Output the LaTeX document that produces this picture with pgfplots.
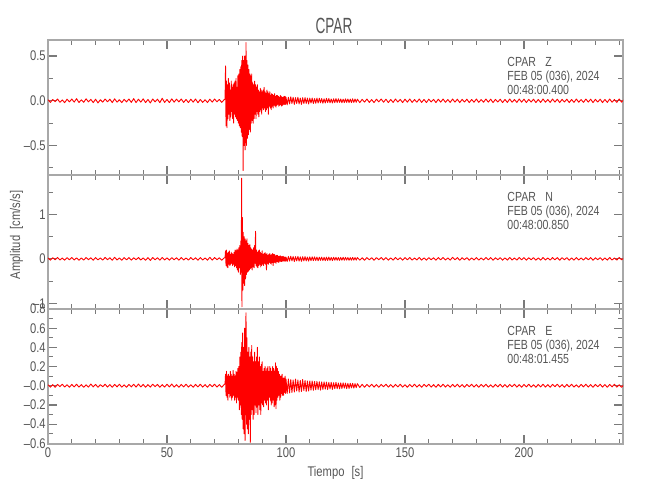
\documentclass[border=0pt]{standalone}
\usepackage{fontspec}
\setmainfont{Liberation Sans}[FakeStretch=0.8]
\newfontfamily\titlefont{Liberation Sans}[FakeStretch=0.62]
\usepackage{pgfplots}
\pgfplotsset{compat=1.18}
\definecolor{txtgray}{HTML}{555555}
\definecolor{axgray}{HTML}{A8A8A8}
\definecolor{tkgray}{HTML}{7A7A7A}
\newcommand\sz{\fontsize{7}{8.4}\selectfont}
\newcommand\an{\fontsize{6.6}{7.9}\selectfont}
\pgfplotsset{
  panel/.style={
    scale only axis, width=287.5pt, xmin=0, xmax=241.6,
    anchor=south west,
    axis line style={draw=axgray, line width=1pt},
    tick align=inside, tick pos=both,
    xticklabel pos=lower, yticklabel pos=left,
    major tick length=4.5pt, minor tick length=2.5pt,
    every major tick/.append style={draw=tkgray, line width=0.6pt},
    every minor tick/.append style={draw=tkgray, line width=0.5pt},
    xtick={0,50,100,150,200},
    minor xtick={10,20,30,40,60,70,80,90,110,120,130,140,160,170,180,190,210,220,230,240},
    tick label style={font=\sz, text=txtgray},
    yticklabel style={inner xsep=1pt, inner ysep=0pt},
    xticklabel style={inner sep=1.5pt},
  },
  trace/.style={red, line width=0.45pt, line join=round, no markers},
}
\begin{document}
\begin{tikzpicture}
\path[use as bounding box] (0pt,0pt) rectangle (325pt,250pt);
% ---------------- Panel 1 (Z)
\begin{axis}[panel, at={(24pt,162.5pt)}, height=67.5pt,
  ymin=-0.83, ymax=0.68, ytick={-0.5,0,0.5},
  yticklabels={\textendash0.5,0.0,0.5},
  minor ytick={-0.75,-0.25,0.25}, xticklabels={}]
\addplot[trace] coordinates {
(0,0.012)(1,-0.018)(2,0.015)(3,-0.01)(4,0.02)(5,-0.016)(6,0.01)(7,-0.021)(8,0.018)(9,-0.012)(10,0.02)(11,-0.015)(12,0.024)(13,-0.019)(14,0.011)(15,-0.017)(16,0.022)(17,-0.012)(18,0.016)(19,-0.02)(20,0.018)(21,-0.024)(22,0.012)(23,-0.015)(24,0.02)(25,-0.011)(26,0.018)(27,-0.02)(28,0.022)(29,-0.015)(30,0.012)(31,-0.02)(32,0.016)(33,-0.013)(34,0.02)(35,-0.018)(36,0.024)(37,-0.02)(38,0.018)(39,-0.015)(40,0.022)(41,-0.02)(42,0.015)(43,-0.024)(44,0.02)(45,-0.012)(46,0.018)(47,-0.02)(48,0.028)(49,-0.018)(50,0.015)(51,-0.02)(52,0.022)(53,-0.015)(54,0.018)(55,-0.012)(56,0.02)(57,-0.018)(58,0.015)(59,-0.02)(60,0.018)(61,-0.015)(62,0.02)(63,-0.022)(64,0.015)(65,-0.018)(66,0.012)(67,-0.02)(68,0.018)(69,-0.015)(70,0.02)(71,-0.012)(72,0.015)(73,-0.018)(74,0.012)
(74.4,0.02)(74.6,0.39)(74.8,-0.28)(75.0,0.22)(75.2,-0.3)(75.4,0.18)(75.6,-0.2)(75.8,0.25)(76.0,-0.15)(76.2,0.2)(76.4,-0.22)(76.6,0.12)(76.8,-0.18)(77.0,0.22)(77.2,-0.12)(77.4,0.15)(77.6,-0.2)(77.8,0.18)(78.0,-0.25)(78.2,0.2)(78.4,-0.15)(78.6,0.22)(78.8,-0.18)(79.0,0.25)(79.2,-0.2)(79.4,0.15)(79.6,-0.22)(79.8,0.28)(80.0,-0.25)(80.2,0.3)(80.4,-0.28)(80.6,0.35)(80.8,-0.3)(81.0,0.38)(81.2,-0.35)(81.4,0.45)(81.6,-0.4)(81.8,0.5)(82.0,-0.78)(82.2,0.45)(82.4,-0.5)(82.6,0.5)(82.8,-0.55)(83.0,-0.4)(83.2,0.65)(83.4,-0.5)(83.6,0.45)(83.8,-0.42)(84.0,0.4)(84.2,-0.38)(84.4,0.35)(84.6,-0.32)(84.8,0.3)(85.0,-0.35)(85.2,0.28)(85.4,-0.25)(85.6,0.3)(85.8,-0.22)(86.0,0.2)(86.2,-0.25)(86.4,0.18)(86.6,-0.2)(86.8,0.22)(87.0,-0.15)(87.2,0.18)(87.4,-0.2)(87.6,0.15)(87.8,-0.12)(88.0,0.18)(88.2,-0.15)(88.4,0.12)(88.6,-0.18)(88.8,0.1)(89.0,-0.12)(89.2,0.14)(89.4,-0.1)(89.6,0.12)(89.8,-0.15)(90.0,0.1)(90.2,-0.08)(90.4,0.12)(90.6,-0.1)(90.8,0.15)(91.0,-0.08)(91.2,0.1)(91.4,-0.12)(91.6,0.08)(91.8,-0.1)(92.0,0.12)(92.2,-0.08)(92.4,0.1)(92.6,-0.15)(92.8,0.08)(93.0,-0.06)(93.2,0.1)(93.4,-0.08)(93.6,0.06)(93.8,-0.1)(94.0,0.08)(94.2,-0.06)(94.4,0.07)(94.6,-0.08)(94.8,0.06)(95.0,-0.05)(95.2,0.08)(95.4,-0.06)(95.6,0.05)(95.8,-0.07)(96.0,0.06)(96.2,-0.05)(96.4,0.06)(96.6,-0.04)(96.8,0.05)(97.0,-0.06)(97.2,0.04)(97.4,-0.05)(97.6,0.06)(97.8,-0.04)(98.0,0.05)(98.2,-0.06)(98.4,0.04)(98.6,-0.05)(98.8,0.04)(99.0,-0.04)(99.2,0.05)(99.4,-0.04)(99.6,0.05)(99.8,-0.04)(100.0,0.04)
(100.5,-0.045)(101,0.04)(101.5,-0.035)(102,0.045)(102.5,-0.03)(103,0.04)(103.5,-0.04)(104,0.035)(104.5,-0.03)(105,0.04)(105.5,-0.035)(106,0.03)(106.5,-0.04)(107,0.035)(107.5,-0.03)(108,0.035)(108.5,-0.03)(109,0.03)(109.5,-0.035)(110,0.03)(110.5,-0.025)(111,0.03)(111.5,-0.03)(112,0.025)(112.5,-0.028)(113,0.03)(113.5,-0.025)(114,0.028)(114.5,-0.022)(115,0.025)(115.5,-0.028)(116,0.022)(116.5,-0.025)(117,0.028)(117.5,-0.02)(118,0.025)(118.5,-0.022)(119,0.02)(119.5,-0.025)(120,0.022)(120.5,-0.02)(121,0.024)(121.5,-0.02)(122,0.022)(122.5,-0.018)(123,0.02)(123.5,-0.022)(124,0.018)(124.5,-0.02)(125,0.022)(125.5,-0.018)(126,0.02)(126.5,-0.02)(127,0.018)(127.5,-0.02)(128,0.022)(128.5,-0.018)(129,0.02)(129.5,-0.017)(130,0.018)
(131,-0.02)(132,0.016)(133,-0.015)(134,0.02)(135,-0.018)(136,0.014)(137,-0.02)(138,0.018)(139,-0.012)(140,0.02)(141,-0.016)(142,0.018)(143,-0.02)(144,0.015)(145,-0.018)(146,0.02)(147,-0.014)(148,0.016)(149,-0.02)(150,0.018)(151,-0.015)(152,0.02)(153,-0.018)(154,0.014)(155,-0.016)(156,0.02)(157,-0.018)(158,0.015)(159,-0.02)(160,0.018)(161,-0.013)(162,0.016)(163,-0.02)(164,0.018)(165,-0.015)(166,0.02)(167,-0.017)(168,0.014)(169,-0.018)(170,0.02)(171,-0.015)(172,0.018)(173,-0.02)(174,0.016)(175,-0.014)(176,0.018)(177,-0.02)(178,0.015)(179,-0.016)(180,0.02)(181,-0.018)(182,0.014)(183,-0.016)(184,0.02)(185,-0.015)(186,0.018)(187,-0.02)(188,0.016)(189,-0.014)(190,0.018)(191,-0.02)(192,0.015)(193,-0.018)(194,0.02)(195,-0.016)(196,0.014)(197,-0.018)(198,0.02)(199,-0.015)(200,0.018)(201,-0.02)(202,0.016)(203,-0.014)(204,0.018)(205,-0.02)(206,0.015)(207,-0.018)(208,0.02)(209,-0.016)(210,0.014)(211,-0.018)(212,0.02)(213,-0.015)(214,0.018)(215,-0.02)(216,0.016)(217,-0.014)(218,0.018)(219,-0.02)(220,0.015)(221,-0.018)(222,0.02)(223,-0.016)(224,0.014)(225,-0.018)(226,0.02)(227,-0.015)(228,0.018)(229,-0.02)(230,0.016)(231,-0.014)(232,0.018)(233,-0.02)(234,0.015)(235,-0.018)(236,0.02)(237,-0.016)(238,0.014)(239,-0.018)(240,0.02)(241,-0.015)(242,0.016)
};
\end{axis}
% ---------------- Panel 2 (N)
\begin{axis}[panel, at={(24pt,95.5pt)}, height=67pt,
  ymin=-1.13, ymax=1.89, ytick={-1,0,1},
  yticklabels={\textendash1,0,1},
  minor ytick={-0.5,0.5,1.5}, xticklabels={}]
\addplot[trace] coordinates {
(0,0.02)(1,-0.03)(2,0.025)(3,-0.02)(4,0.032)(5,-0.025)(6,0.018)(7,-0.03)(8,0.028)(9,-0.02)(10,0.03)(11,-0.025)(12,0.022)(13,-0.032)(14,0.02)(15,-0.028)(16,0.03)(17,-0.018)(18,0.025)(19,-0.03)(20,0.028)(21,-0.022)(22,0.02)(23,-0.028)(24,0.032)(25,-0.02)(26,0.025)(27,-0.03)(28,0.035)(29,-0.025)(30,0.02)(31,-0.03)(32,0.028)(33,-0.022)(34,0.03)(35,-0.028)(36,0.025)(37,-0.02)(38,0.03)(39,-0.025)(40,0.022)(41,-0.03)(42,0.028)(43,-0.035)(44,0.03)(45,-0.02)(46,0.025)(47,-0.03)(48,0.032)(49,-0.025)(50,0.022)(51,-0.03)(52,0.028)(53,-0.02)(54,0.025)(55,-0.03)(56,0.03)(57,-0.025)(58,0.02)(59,-0.028)(60,0.03)(61,-0.022)(62,0.025)(63,-0.03)(64,0.028)(65,-0.025)(66,0.02)(67,-0.03)(68,0.035)(69,-0.028)(70,0.03)(71,-0.02)(72,0.025)(73,-0.03)(74,0.02)
(74.4,0.03)(74.6,0.18)(74.8,-0.15)(75.0,0.2)(75.2,-0.18)(75.4,0.12)(75.6,-0.2)(75.8,0.15)(76.0,-0.12)(76.2,0.18)(76.4,-0.15)(76.6,0.1)(76.8,-0.12)(77.0,0.15)(77.2,-0.1)(77.4,0.12)(77.6,-0.15)(77.8,0.1)(78.0,-0.12)(78.2,0.15)(78.4,-0.18)(78.6,0.2)(78.8,-0.15)(79.0,0.18)(79.2,-0.2)(79.4,0.22)(79.6,-0.25)(79.8,0.2)(80.0,-0.3)(80.2,0.25)(80.4,-0.2)(80.6,0.3)(80.8,-0.35)(81.0,0.4)(81.2,-0.3)(81.35,1.82)(81.5,-1.08)(81.7,0.93)(81.9,-0.7)(82.0,0.6)(82.2,-0.55)(82.4,0.5)(82.6,-0.6)(82.8,0.45)(83.0,-0.45)(83.2,0.4)(83.4,-0.35)(83.6,0.45)(83.8,-0.3)(84.0,0.35)(84.2,-0.28)(84.4,0.3)(84.6,-0.25)(84.8,0.32)(85.0,-0.22)(85.2,0.25)(85.4,-0.2)(85.6,0.22)(85.8,-0.25)(86.0,0.2)(86.2,-0.18)(86.4,0.25)(86.6,-0.2)(86.8,0.3)(87.0,-0.1)(87.2,0.62)(87.4,-0.15)(87.6,0.2)(87.8,-0.18)(88.0,0.15)(88.2,-0.2)(88.4,0.18)(88.6,-0.15)(88.8,0.2)(89.0,-0.12)(89.2,0.15)(89.4,-0.18)(89.6,0.12)(89.8,-0.15)(90.0,0.18)(90.2,-0.12)(90.4,0.1)(90.6,-0.15)(90.8,0.12)(91.0,-0.1)(91.2,0.14)(91.4,-0.12)(91.6,0.1)(91.8,-0.25)(92.0,0.12)(92.2,-0.1)(92.4,0.08)(92.6,-0.12)(92.8,0.1)(93.0,-0.08)(93.2,0.12)(93.4,-0.1)(93.6,0.08)(93.8,-0.12)(94.0,0.1)(94.2,-0.08)(94.4,0.12)(94.6,-0.15)(94.8,0.1)(95.0,-0.08)(95.2,0.1)(95.4,-0.08)(95.6,0.07)(95.8,-0.1)(96.0,0.08)(96.2,-0.06)(96.4,0.08)(96.6,-0.07)(96.8,0.06)(97.0,-0.08)(97.2,0.06)(97.4,-0.05)(97.6,0.07)(97.8,-0.06)(98.0,0.05)(98.2,-0.06)(98.4,0.05)(98.6,-0.05)(98.8,0.06)(99.0,-0.05)(99.2,0.04)(99.4,-0.05)(99.6,0.04)(99.8,-0.05)(100.0,0.04)
(100.5,-0.06)(101,0.055)(101.5,-0.05)(102,0.06)(102.5,-0.045)(103,0.055)(103.5,-0.06)(104,0.05)(104.5,-0.045)(105,0.055)(105.5,-0.05)(106,0.045)(106.5,-0.055)(107,0.05)(107.5,-0.045)(108,0.05)(108.5,-0.045)(109,0.04)(109.5,-0.05)(110,0.045)(110.5,-0.04)(111,0.045)(111.5,-0.04)(112,0.045)(112.5,-0.038)(113,0.04)(113.5,-0.042)(114,0.038)(114.5,-0.035)(115,0.04)(115.5,-0.038)(116,0.035)(116.5,-0.04)(117,0.038)(117.5,-0.035)(118,0.04)(118.5,-0.035)(119,0.032)(119.5,-0.038)(120,0.035)(120.5,-0.03)(121,0.035)(121.5,-0.032)(122,0.03)(122.5,-0.035)(123,0.032)(123.5,-0.03)(124,0.035)(124.5,-0.03)(125,0.032)(125.5,-0.028)(126,0.03)(126.5,-0.032)(127,0.028)(127.5,-0.03)(128,0.032)(128.5,-0.028)(129,0.03)(129.5,-0.028)(130,0.03)
(131,-0.028)(132,0.025)(133,-0.03)(134,0.028)(135,-0.022)(136,0.025)(137,-0.03)(138,0.028)(139,-0.02)(140,0.03)(141,-0.025)(142,0.028)(143,-0.03)(144,0.022)(145,-0.028)(146,0.03)(147,-0.02)(148,0.025)(149,-0.03)(150,0.028)(151,-0.022)(152,0.03)(153,-0.028)(154,0.02)(155,-0.025)(156,0.03)(157,-0.028)(158,0.022)(159,-0.03)(160,0.028)(161,-0.02)(162,0.025)(163,-0.03)(164,0.028)(165,-0.022)(166,0.03)(167,-0.025)(168,0.02)(169,-0.028)(170,0.035)(171,-0.022)(172,0.028)(173,-0.03)(174,0.025)(175,-0.02)(176,0.028)(177,-0.03)(178,0.022)(179,-0.025)(180,0.03)(181,-0.028)(182,0.02)(183,-0.025)(184,0.03)(185,-0.022)(186,0.028)(187,-0.03)(188,0.025)(189,-0.02)(190,0.028)(191,-0.03)(192,0.022)(193,-0.028)(194,0.03)(195,-0.025)(196,0.02)(197,-0.028)(198,0.03)(199,-0.022)(200,0.028)(201,-0.03)(202,0.025)(203,-0.02)(204,0.028)(205,-0.03)(206,0.022)(207,-0.028)(208,0.03)(209,-0.025)(210,0.02)(211,-0.028)(212,0.03)(213,-0.022)(214,0.028)(215,-0.03)(216,0.025)(217,-0.02)(218,0.028)(219,-0.03)(220,0.022)(221,-0.028)(222,0.03)(223,-0.025)(224,0.02)(225,-0.028)(226,0.03)(227,-0.022)(228,0.028)(229,-0.03)(230,0.025)(231,-0.02)(232,0.028)(233,-0.03)(234,0.022)(235,-0.028)(236,0.03)(237,-0.025)(238,0.02)(239,-0.028)(240,0.03)(241,-0.022)(242,0.025)
};
\end{axis}
% ---------------- Panel 3 (E)
\begin{axis}[panel, at={(24pt,28pt)}, height=67.5pt,
  ymin=-0.607, ymax=0.8, ytick={-0.6,-0.4,-0.2,0,0.2,0.4,0.6,0.8},
  yticklabels={\textendash0.6,\textendash0.4,\textendash0.2,\textendash0.0,0.2,0.4,0.6,0.8},
  minor ytick={-0.5,-0.3,-0.1,0.1,0.3,0.5,0.7},
  xticklabels={0,50,100,150,200}]
\addplot[trace] coordinates {
(0,0.01)(1,-0.015)(2,0.012)(3,-0.016)(4,0.014)(5,-0.01)(6,0.016)(7,-0.013)(8,0.01)(9,-0.016)(10,0.014)(11,-0.012)(12,0.016)(13,-0.014)(14,0.012)(15,-0.016)(16,0.01)(17,-0.014)(18,0.018)(19,-0.012)(20,0.014)(21,-0.016)(22,0.012)(23,-0.01)(24,0.016)(25,-0.014)(26,0.012)(27,-0.016)(28,0.014)(29,-0.012)(30,0.016)(31,-0.014)(32,0.01)(33,-0.016)(34,0.014)(35,-0.012)(36,0.016)(37,-0.014)(38,0.018)(39,-0.012)(40,0.014)(41,-0.016)(42,0.012)(43,-0.014)(44,0.016)(45,-0.01)(46,0.014)(47,-0.016)(48,0.012)(49,-0.014)(50,0.016)(51,-0.012)(52,0.018)(53,-0.014)(54,0.012)(55,-0.016)(56,0.014)(57,-0.012)(58,0.016)(59,-0.014)(60,0.01)(61,-0.016)(62,0.014)(63,-0.012)(64,0.016)(65,-0.014)(66,0.012)(67,-0.016)(68,0.014)(69,-0.01)(70,0.016)(71,-0.014)(72,0.012)(73,-0.016)(74,0.012)
(74.4,0.02)(74.6,0.12)(74.8,-0.1)(75.0,0.15)(75.2,-0.12)(75.4,0.1)(75.6,-0.15)(75.8,0.12)(76.0,-0.08)(76.2,0.1)(76.4,-0.12)(76.6,0.15)(76.8,-0.1)(77.0,0.12)(77.2,-0.15)(77.4,0.1)(77.6,-0.12)(77.8,0.16)(78.0,-0.1)(78.2,0.12)(78.4,-0.15)(78.6,0.1)(78.8,-0.12)(79.0,0.15)(79.2,-0.18)(79.4,0.14)(79.6,-0.12)(79.8,0.18)(80.0,-0.15)(80.2,0.2)(80.4,-0.25)(80.6,0.3)(80.8,-0.2)(81.0,0.35)(81.2,-0.3)(81.4,0.45)(81.6,-0.35)(81.8,0.55)(82.0,-0.45)(82.2,0.4)(82.4,-0.5)(82.6,0.6)(82.8,-0.57)(83.0,0.5)(83.2,0.76)(83.4,-0.4)(83.6,0.5)(83.8,-0.45)(84.0,0.35)(84.2,-0.5)(84.4,0.4)(84.6,-0.35)(84.8,0.3)(85.0,-0.59)(85.2,0.35)(85.4,-0.3)(85.6,0.42)(85.8,-0.25)(86.0,0.3)(86.2,-0.35)(86.4,0.25)(86.6,-0.3)(86.8,0.35)(87.0,-0.2)(87.2,0.25)(87.4,-0.28)(87.6,0.3)(87.8,-0.22)(88.0,0.4)(88.2,-0.3)(88.4,0.25)(88.6,-0.2)(88.8,0.3)(89.0,-0.25)(89.2,0.2)(89.4,-0.3)(89.6,0.22)(89.8,-0.18)(90.0,0.25)(90.2,-0.2)(90.4,0.15)(90.6,-0.22)(90.8,0.18)(91.0,-0.15)(91.2,0.2)(91.4,-0.18)(91.6,0.15)(91.8,-0.2)(92.0,0.18)(92.2,-0.15)(92.4,0.2)(92.6,-0.25)(92.8,0.15)(93.0,-0.12)(93.2,0.2)(93.4,-0.15)(93.6,0.18)(93.8,-0.2)(94.0,0.15)(94.2,-0.18)(94.4,0.2)(94.6,-0.15)(94.8,0.18)(95.0,-0.22)(95.2,0.15)(95.4,-0.2)(95.6,0.24)(95.8,-0.24)(96.0,0.2)(96.2,-0.15)(96.4,0.18)(96.6,-0.12)(96.8,0.15)(97.0,-0.1)(97.2,0.12)(97.4,-0.15)(97.6,0.1)(97.8,-0.12)(98.0,0.1)(98.2,-0.08)(98.4,0.12)(98.6,-0.1)(98.8,0.08)(99.0,-0.1)(99.2,0.08)(99.4,-0.07)(99.6,0.1)(99.8,-0.08)(100.0,0.07)
(100.5,-0.08)(101,0.07)(101.5,-0.075)(102,0.065)(102.5,-0.07)(103,0.06)(103.5,-0.065)(104,0.07)(104.5,-0.055)(105,0.06)(105.5,-0.065)(106,0.055)(106.5,-0.06)(107,0.065)(107.5,-0.05)(108,0.055)(108.5,-0.06)(109,0.05)(109.5,-0.055)(110,0.05)(110.5,-0.045)(111,0.05)(111.5,-0.048)(112,0.045)(112.5,-0.042)(113,0.045)(113.5,-0.04)(114,0.042)(114.5,-0.045)(115,0.04)(115.5,-0.038)(116,0.04)(116.5,-0.035)(117,0.038)(117.5,-0.04)(118,0.035)(118.5,-0.032)(119,0.035)(119.5,-0.038)(120,0.032)(120.5,-0.03)(121,0.035)(121.5,-0.03)(122,0.028)(122.5,-0.032)(123,0.03)(123.5,-0.028)(124,0.03)(124.5,-0.025)(125,0.028)(125.5,-0.03)(126,0.025)(126.5,-0.028)(127,0.025)(127.5,-0.022)(128,0.025)(128.5,-0.024)(129,0.022)(129.5,-0.02)(130,0.022)
(131,-0.018)(132,0.015)(133,-0.016)(134,0.014)(135,-0.012)(136,0.016)(137,-0.014)(138,0.012)(139,-0.016)(140,0.014)(141,-0.01)(142,0.016)(143,-0.014)(144,0.012)(145,-0.016)(146,0.014)(147,-0.012)(148,0.016)(149,-0.014)(150,0.01)(151,-0.016)(152,0.014)(153,-0.012)(154,0.016)(155,-0.014)(156,0.012)(157,-0.016)(158,0.014)(159,-0.01)(160,0.016)(161,-0.014)(162,0.012)(163,-0.016)(164,0.014)(165,-0.012)(166,0.016)(167,-0.014)(168,0.01)(169,-0.016)(170,0.014)(171,-0.012)(172,0.016)(173,-0.014)(174,0.012)(175,-0.016)(176,0.014)(177,-0.01)(178,0.016)(179,-0.014)(180,0.012)(181,-0.016)(182,0.014)(183,-0.012)(184,0.016)(185,-0.014)(186,0.01)(187,-0.016)(188,0.014)(189,-0.012)(190,0.016)(191,-0.014)(192,0.012)(193,-0.016)(194,0.014)(195,-0.01)(196,0.016)(197,-0.014)(198,0.012)(199,-0.016)(200,0.014)(201,-0.012)(202,0.016)(203,-0.014)(204,0.01)(205,-0.016)(206,0.014)(207,-0.012)(208,0.016)(209,-0.014)(210,0.012)(211,-0.016)(212,0.014)(213,-0.01)(214,0.016)(215,-0.014)(216,0.012)(217,-0.016)(218,0.014)(219,-0.012)(220,0.016)(221,-0.014)(222,0.01)(223,-0.016)(224,0.014)(225,-0.012)(226,0.016)(227,-0.014)(228,0.012)(229,-0.016)(230,0.014)(231,-0.01)(232,0.016)(233,-0.014)(234,0.012)(235,-0.016)(236,0.014)(237,-0.012)(238,0.016)(239,-0.014)(240,0.01)(241,-0.016)(242,0.014)
};
\end{axis}
% ---------------- Texts
\node[anchor=base, text=txtgray, font=\titlefont\fontsize{11}{13}\selectfont] at (167pt,233.3pt) {CPAR};
\node[anchor=base, text=txtgray, font=\sz] at (167.75pt,11.7pt) {Tiempo\hspace{2pt} [s]};
\node[anchor=base, rotate=90, text=txtgray, font=\sz] at (10pt,132.5pt) {Amplitud\hspace{1.5pt} [cm/s/s]};
% annotations
\foreach \top/\comp/\tm in {230/Z/00:48:00.400, 162.5/N/00:48:00.850, 95.5/E/00:48:01.455}{
  \node[anchor=base west, inner sep=0pt, text=txtgray, font=\an] at (253.5pt,\top pt-13pt) {CPAR};
  \node[anchor=base west, inner sep=0pt, text=txtgray, font=\an] at (272.5pt,\top pt-13pt) {\comp};
  \node[anchor=base west, inner sep=0pt, text=txtgray, font=\an] at (253.5pt,\top pt-20pt) {FEB 05 (036), 2024};
  \node[anchor=base west, inner sep=0pt, text=txtgray, font=\an] at (253.5pt,\top pt-27.3pt) {\tm};
}
\end{tikzpicture}
\end{document}
